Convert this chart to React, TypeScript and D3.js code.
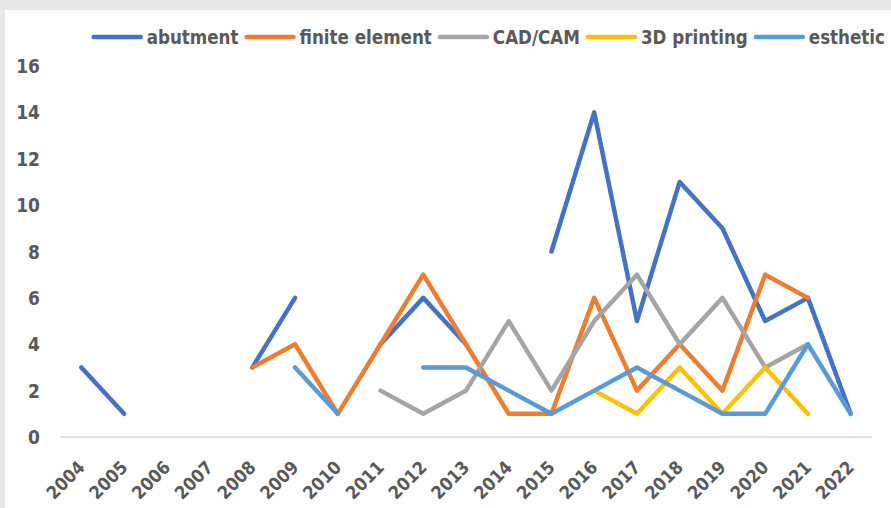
import { useMemo } from "react";
import * as d3 from "d3";

const WIDTH = 891;
const HEIGHT = 508;
const FONT = '"DejaVu Sans Condensed", "Liberation Sans Narrow", Roboto, sans-serif';
const TEXT_COLOR = "#595959";

const years = [
  "2004", "2005", "2006", "2007", "2008", "2009", "2010", "2011", "2012", "2013",
  "2014", "2015", "2016", "2017", "2018", "2019", "2020", "2021", "2022",
];

const abutment = [3, 1, null, null, 3, 6, null, 4, 6, 4, null, 8, 14, 5, 11, 9, 5, 6, 1];
const finiteElement = [null, null, null, null, 3, 4, 1, 4, 7, 4, 1, 1, 6, 2, 4, 2, 7, 6, null];
const cadCam = [null, null, null, null, null, null, null, 2, 1, 2, 5, 2, 5, 7, 4, 6, 3, 4, null];
const printing3d = [null, null, null, null, null, null, null, null, null, null, null, null, 2, 1, 3, 1, 3, 1, null];
const esthetic = [null, null, null, null, null, 3, 1, null, 3, 3, 2, 1, 2, 3, 2, 1, 1, 4, 1];

const yTicks = [0, 2, 4, 6, 8, 10, 12, 14, 16];

const series = [
  { name: "abutment", color: "#4472C4", values: abutment },
  { name: "finite element", color: "#ED7D31", values: finiteElement },
  { name: "CAD/CAM", color: "#A5A5A5", values: cadCam },
  { name: "3D printing", color: "#FFC000", values: printing3d },
  { name: "esthetic", color: "#5B9BD5", values: esthetic },
];

const measure = (text: string, font: string) => {
  const ctx = document.createElement("canvas").getContext("2d");
  if (!ctx) return text.length * 10;
  ctx.font = font;
  return ctx.measureText(text).width;
};

export default function App() {
  const margin = { top: 66, right: 19, bottom: 71, left: 60 };

  const x = useMemo(
    () =>
      d3
        .scaleBand()
        .domain(years)
        .range([margin.left, WIDTH - margin.right]),
    []
  );
  const y = useMemo(
    () =>
      d3
        .scaleLinear()
        .domain([0, 16])
        .range([HEIGHT - margin.bottom, margin.top]),
    []
  );

  const cx = (i: number) => (x(years[i]) ?? 0) + x.bandwidth() / 2;

  const line = d3
    .line<number | null>()
    .defined((d) => d !== null)
    .x((_, i) => cx(i))
    .y((d) => y(d as number));

  // legend laid out in a row, ending near the right edge
  const legendSize = 18.6;
  const legendFont = `bold ${legendSize}px ${FONT}`;
  const swatch = 47;
  const textGap = 6;
  const itemGap = 8;
  const widths = series.map((s) => measure(s.name, legendFont));
  const total =
    d3.sum(widths) + series.length * (swatch + textGap) + (series.length - 1) * itemGap;
  let lx = 885 - total;
  const legendItems = series.map((s, i) => {
    const item = { ...s, x: lx };
    lx += swatch + textGap + widths[i] + itemGap;
    return item;
  });

  return (
    <svg
      width={WIDTH}
      height={HEIGHT}
      style={{ position: "absolute", left: 0, top: 0, fontFamily: FONT }}
    >
      <rect width={WIDTH} height={HEIGHT} fill="#e7e8ea" />
      <rect x={5} y={10} width={WIDTH - 5} height={HEIGHT - 10} fill="#ffffff" />

      {/* y tick labels */}
      {yTicks.map((t) => (
        <text
          key={t}
          x={40}
          y={y(t)}
          textAnchor="end"
          dominantBaseline="central"
          fontSize={19}
          fontWeight="bold"
          fill={TEXT_COLOR}
        >
          {t}
        </text>
      ))}

      {/* x axis */}
      <line
        x1={margin.left}
        x2={WIDTH - margin.right}
        y1={y(0)}
        y2={y(0)}
        stroke="#d9d9d9"
        strokeWidth={1.5}
      />
      {years.map((yr, i) => (
        <text
          key={yr}
          transform={`translate(${cx(i)},${y(0) + 27}) rotate(-45)`}
          textAnchor="end"
          dominantBaseline="central"
          fontSize={18}
          fontWeight="bold"
          fill={TEXT_COLOR}
        >
          {yr}
        </text>
      ))}

      {/* lines */}
      {series.map((s) => (
        <path
          key={s.name}
          d={line(s.values) ?? ""}
          fill="none"
          stroke={s.color}
          strokeWidth={4.5}
          strokeLinecap="round"
          strokeLinejoin="round"
        />
      ))}

      {/* legend */}
      {legendItems.map((s) => (
        <g key={s.name}>
          <line
            x1={s.x}
            x2={s.x + swatch}
            y1={37}
            y2={37}
            stroke={s.color}
            strokeWidth={4.5}
            strokeLinecap="round"
          />
          <text
            x={s.x + swatch + textGap}
            y={37}
            dominantBaseline="central"
            fontSize={legendSize}
            fontWeight="bold"
            fill={TEXT_COLOR}
          >
            {s.name}
          </text>
        </g>
      ))}
    </svg>
  );
}
